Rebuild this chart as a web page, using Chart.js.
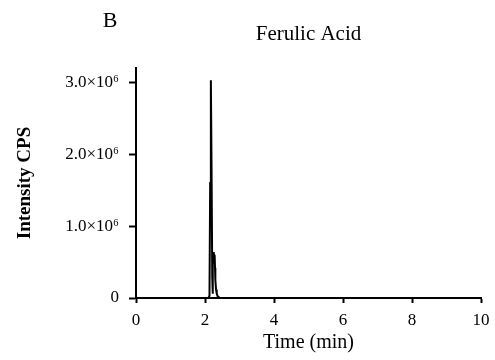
<!DOCTYPE html>
<html><head><meta charset="utf-8">
<script src="https://cdn.jsdelivr.net/npm/chart.js@4/dist/chart.umd.min.js"></script>
<style>html,body{margin:0;padding:0;background:#fff}#w{width:495px;height:360px}</style>
</head><body><div id="w"><canvas id="c" width="495" height="360"></canvas></div>
<script>
const panelLabel = "B";
const chartTitle = "Ferulic Acid";
const xTitle = "Time (min)";
const yTitle = "Intensity CPS";
const times = [0, 1.0, 2.10, 2.13, 2.15, 2.17, 2.19, 2.21, 2.22, 2.23, 2.24, 2.25, 2.26, 2.27, 2.28, 2.29, 2.30, 2.32, 2.34, 2.37, 2.42, 2.50, 3.0, 5.0, 8.0, 10.0];
const intensity = [0, 0, 0, 30000, 1600000, 3030000, 1800000, 300000, 60000, 560000, 640000, 480000, 620000, 560000, 600000, 420000, 250000, 120000, 60000, 20000, 5000, 0, 0, 0, 0, 0];
const xTicks = [0, 2, 4, 6, 8, 10];
const yTicks = [0, 1000000, 2000000, 3000000];
const yTickLabels = ["0", "1.0\u00d710\u2076", "2.0\u00d710\u2076", "3.0\u00d710\u2076"];

const serif = "'Liberation Serif', 'Times New Roman', serif";
const textPlugin = {
  id: 'texts',
  afterDraw(chart) {
    const ctx = chart.ctx;
    ctx.save();
    ctx.fillStyle = '#000';
    ctx.textAlign = 'center';
    ctx.textBaseline = 'middle';
    ctx.font = "22px " + serif;
    ctx.fillText(panelLabel, 110, 21);
    ctx.font = "21px " + serif;
    const ca = chart.chartArea;
    ctx.fillText(chartTitle, (ca.left + ca.right) / 2, 34);
    ctx.restore();
  }
};

new Chart(document.getElementById('c'), {
  type: 'line',
  data: {
    datasets: [{
      data: times.map((t, i) => ({x: t, y: intensity[i]})),
      borderColor: '#000',
      borderWidth: 2,
      pointRadius: 0,
      tension: 0,
      fill: false
    }]
  },
  options: {
    responsive: false,
    animation: false,
    plugins: { legend: {display: false}, tooltip: {enabled: false} },
    layout: { padding: { top: 68, right: 14, left: 0, bottom: 5 } },
    scales: {
      x: {
        type: 'linear',
        min: 0, max: 10,
        afterBuildTicks(s) { s.ticks = xTicks.map(v => ({value: v})); },
        afterFit(s) { s.height = 57; s.paddingRight = 0; s.paddingLeft = 0; },
        grid: { drawOnChartArea: false, drawTicks: true, tickLength: 5, tickWidth: 2, color: '#000' },
        border: { color: '#000', width: 2 },
        ticks: { color: '#000', font: { family: serif, size: 17 }, padding: 7, maxRotation: 0 },
        title: { display: true, text: xTitle, color: '#000', font: { family: serif, size: 20 }, padding: { top: 0, bottom: 0 } }
      },
      y: {
        type: 'linear',
        min: 0, max: 3200000,
        afterBuildTicks(s) { s.ticks = yTicks.map(v => ({value: v})); },
        afterFit(s) { s.width = 136; s.paddingTop = 0; s.paddingBottom = 0; },
        grid: { drawOnChartArea: false, drawTicks: true, tickLength: 7, tickWidth: 2, color: '#000' },
        border: { color: '#000', width: 2 },
        ticks: { color: '#000', font: { family: serif, size: 17 }, padding: 10,
          callback(v) { const i = yTicks.indexOf(v); return i >= 0 ? yTickLabels[i] : ''; } },
        title: { display: true, text: yTitle, color: '#000', font: { family: serif, size: 19, weight: 'bold' }, padding: { bottom: 0, top: 14 } }
      }
    }
  },
  plugins: [textPlugin]
});
</script></body></html>
